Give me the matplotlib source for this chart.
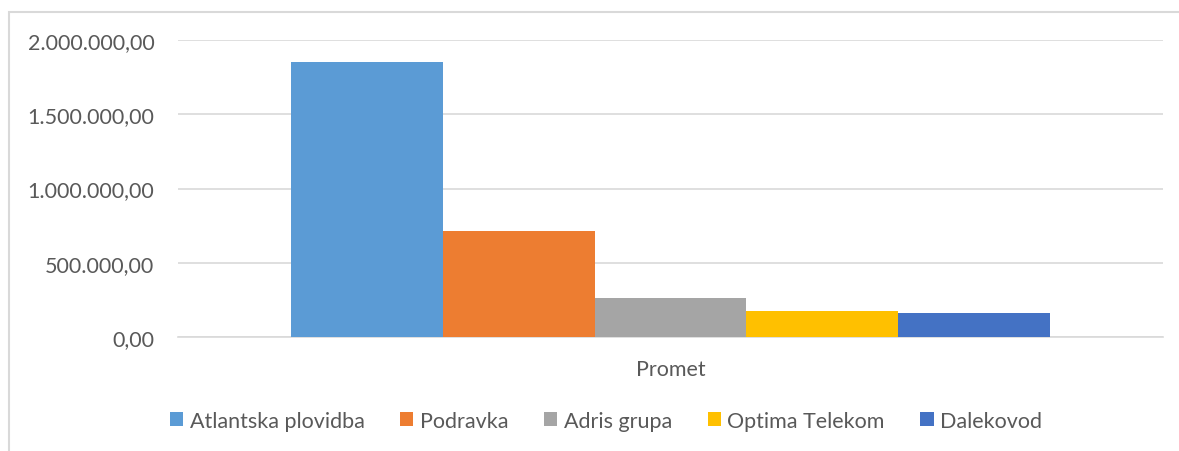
import matplotlib.pyplot as plt
from matplotlib.patches import Rectangle
from matplotlib.ticker import FuncFormatter

# data
companies = ["Atlantska plovidba", "Podravka", "Adris grupa", "Optima Telekom", "Dalekovod"]
promet = [1852000, 714000, 262000, 175000, 162000]
colors = ["#5B9BD5", "#ED7D31", "#A5A5A5", "#FFC000", "#4472C4"]
category = "Promet"

plt.rcParams["font.family"] = ["Lato", "DejaVu Sans"]
text_col = "#595959"

fig = plt.figure(figsize=(11.79, 4.52), dpi=100)
W, H = 1179, 452
ax = fig.add_axes([178 / W, 1 - 338 / H, (1163 - 178) / W, (338 - 41) / H])

# outer chart frame (cropped: only top and left edges visible)
fig.patches.append(Rectangle((9.5 / W, -0.05), 1.1, 1.05 - 12.5 / H, transform=fig.transFigure,
                             fill=False, edgecolor="#D9D9D9", linewidth=1.5))

n = len(companies)
width = 0.154
offsets = [(i - (n - 1) / 2) * width for i in range(n)]
for off, name, val, c in zip(offsets, companies, promet, colors):
    ax.bar(off, val, width=width, color=c, label=name, zorder=3)

ax.set_xlim(-0.5, 0.5)
ax.set_ylim(0, 2000000)
ax.set_yticks([0, 500000, 1000000, 1500000, 2000000])


def hr_fmt(v, pos):
    s = f"{v:,.2f}"
    return s.replace(",", "X").replace(".", ",").replace("X", ".")


ax.yaxis.set_major_formatter(FuncFormatter(hr_fmt))
ax.set_xticks([0])
ax.set_xticklabels([category])
ax.grid(axis="y", color="#D9D9D9", linewidth=1.2, zorder=0)
for s in ["top", "right", "left"]:
    ax.spines[s].set_visible(False)
ax.spines["bottom"].set_color("#D9D9D9")
ax.spines["bottom"].set_linewidth(1.2)
ax.tick_params(axis="both", length=0, labelsize=15.5, colors=text_col, pad=17)
ax.tick_params(axis="x", pad=16)

leg = fig.legend(loc="center", bbox_to_anchor=(606 / W, 1 - 422 / H), ncol=n, frameon=False,
                 fontsize=15.5, handlelength=0.62, handleheight=0.62, handletextpad=0.3,
                 columnspacing=1.65)
for t in leg.get_texts():
    t.set_color(text_col)

fig.savefig("out.png", dpi=100)
